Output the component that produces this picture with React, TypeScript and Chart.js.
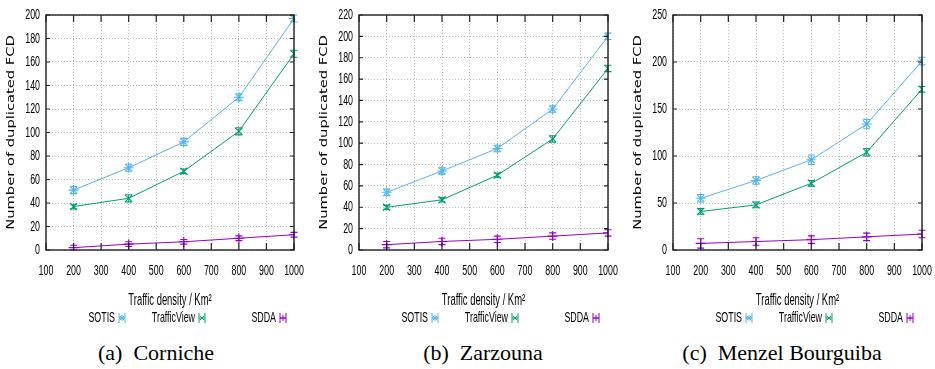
import React, { useEffect, useRef } from "react";
import { Chart, registerables } from "chart.js";

Chart.register(...registerables);

// ---------- data ----------
const densities = [200, 400, 600, 800, 1000];
const seriesNames = ["SOTIS", "TrafficView", "SDDA"];
const seriesColors = ["#56b4e9", "#009e73", "#9400d3"];
const seriesPointStyles = ["star", "crossRot", "cross"];

const cornicheSotis = [51, 70, 92, 130, 197];
const cornicheTrafficView = [37, 44, 67, 101, 167];
const cornicheSdda = [2, 5, 7, 10, 13];
const cornicheSotisErr = [3, 3, 3, 3, 3];
const cornicheTrafficViewErr = [2, 3, 2, 3, 3];
const cornicheSddaErr = [2, 2, 2, 2, 2];

const zarzounaSotis = [54, 74, 95, 132, 200];
const zarzounaTrafficView = [40, 47, 70, 104, 170];
const zarzounaSdda = [5, 8, 10, 13, 16];
const zarzounaSotisErr = [3, 3, 3, 3, 3];
const zarzounaTrafficViewErr = [2, 2, 2, 3, 3];
const zarzounaSddaErr = [3, 3, 3, 3, 3];

const menzelSotis = [55, 74, 96, 134, 201];
const menzelTrafficView = [41, 48, 71, 104, 171];
const menzelSdda = [7, 9, 11, 14, 17];
const menzelSotisErr = [4, 4, 5, 5, 4];
const menzelTrafficViewErr = [3, 3, 3, 4, 3];
const menzelSddaErr = [5, 4, 4, 4, 4];

const xMin = 100;
const xMax = 1000;
const xStep = 100;
const yMaxes = [200, 220, 250];
const ySteps = [20, 20, 50];

const yAxisTitle = "Number of duplicated FCD";
const xAxisTitle = "Traffic density / Km²";
const captions = ["(a)  Corniche", "(b)  Zarzouna", "(c)  Menzel Bourguiba"];

// ---------- layout ----------
const CANVAS_H = 330;
const STRETCH = 1.4;
const NARROW = 0.82;

type Series = { name: string; color: string; style: string; values: number[]; errors: number[] };

const panelLayouts = [
  { left: 0, width: 310, plotLeft: 46, plotRight: 294, captionCenter: 156 },
  { left: 312, width: 311, plotLeft: 47, plotRight: 296, captionCenter: 483 },
  { left: 625, width: 310, plotLeft: 48, plotRight: 297, captionCenter: 782 },
];

const panelSeries: Series[][] = [
  [
    [cornicheSotis, cornicheSotisErr],
    [cornicheTrafficView, cornicheTrafficViewErr],
    [cornicheSdda, cornicheSddaErr],
  ],
  [
    [zarzounaSotis, zarzounaSotisErr],
    [zarzounaTrafficView, zarzounaTrafficViewErr],
    [zarzounaSdda, zarzounaSddaErr],
  ],
  [
    [menzelSotis, menzelSotisErr],
    [menzelTrafficView, menzelTrafficViewErr],
    [menzelSdda, menzelSddaErr],
  ],
].map((p) =>
  p.map(([values, errors], i) => ({
    name: seriesNames[i],
    color: seriesColors[i],
    style: seriesPointStyles[i],
    values,
    errors,
  }))
);

function drawText(
  ctx: CanvasRenderingContext2D,
  text: string,
  x: number,
  y: number,
  font: string,
  align: CanvasTextAlign,
  sx: number,
  sy: number,
  rotate = false,
  color = "#000"
) {
  ctx.save();
  ctx.translate(x, y);
  if (rotate) ctx.rotate(-Math.PI / 2);
  ctx.scale(sx, sy);
  ctx.font = font;
  ctx.fillStyle = color;
  ctx.textAlign = align;
  ctx.textBaseline = "middle";
  ctx.fillText(text, 0, 0);
  ctx.restore();
}

function drawMarker(ctx: CanvasRenderingContext2D, style: string, x: number, y: number, r: number) {
  ctx.beginPath();
  const d = r * Math.SQRT1_2;
  if (style === "cross" || style === "star") {
    ctx.moveTo(x - r, y);
    ctx.lineTo(x + r, y);
    ctx.moveTo(x, y - r);
    ctx.lineTo(x, y + r);
  }
  if (style === "crossRot" || style === "star") {
    ctx.moveTo(x - d, y - d);
    ctx.lineTo(x + d, y + d);
    ctx.moveTo(x - d, y + d);
    ctx.lineTo(x + d, y - d);
  }
  ctx.stroke();
}

const legendTextEnds = [69, 149, 230];

function makePlugin(series: Series[]) {
  return {
    id: "gnuplotLook",
    afterDatasetsDraw(chart: any) {
      const { ctx, scales } = chart;
      const x = scales.x;
      const y = scales.y;
      ctx.save();
      ctx.lineWidth = 1.1;
      series.forEach((s) => {
        ctx.strokeStyle = s.color;
        densities.forEach((d, i) => {
          const px = x.getPixelForValue(d);
          const top = y.getPixelForValue(s.values[i] + s.errors[i]);
          const bot = y.getPixelForValue(s.values[i] - s.errors[i]);
          ctx.beginPath();
          ctx.moveTo(px, top);
          ctx.lineTo(px, bot);
          ctx.moveTo(px - 3.5, top);
          ctx.lineTo(px + 3.5, top);
          ctx.moveTo(px - 3.5, bot);
          ctx.lineTo(px + 3.5, bot);
          ctx.stroke();
        });
      });
      ctx.restore();
    },
    afterDraw(chart: any) {
      const { ctx, chartArea: a, scales } = chart;
      const x = scales.x;
      const y = scales.y;
      ctx.save();
      // frame
      ctx.strokeStyle = "#222";
      ctx.lineWidth = 1.4;
      ctx.strokeRect(a.left, a.top, a.right - a.left, a.bottom - a.top);
      // inward mirrored ticks
      ctx.lineWidth = 1.2;
      ctx.beginPath();
      x.ticks.forEach((t: any) => {
        const px = x.getPixelForValue(t.value);
        ctx.moveTo(px, a.bottom);
        ctx.lineTo(px, a.bottom - 7);
        ctx.moveTo(px, a.top);
        ctx.lineTo(px, a.top + 7);
      });
      y.ticks.forEach((t: any) => {
        const py = y.getPixelForValue(t.value);
        ctx.moveTo(a.left, py);
        ctx.lineTo(a.left + 4, py);
        ctx.moveTo(a.right, py);
        ctx.lineTo(a.right - 4, py);
      });
      ctx.stroke();

      const tickFont = '10.8px "Liberation Sans", Arial, sans-serif';
      x.ticks.forEach((t: any) => {
        drawText(ctx, String(t.value), x.getPixelForValue(t.value), a.bottom + 21, tickFont, "center", NARROW, STRETCH);
      });
      y.ticks.forEach((t: any) => {
        drawText(ctx, String(t.value), a.left - 6, y.getPixelForValue(t.value), tickFont, "right", NARROW, STRETCH);
      });

      // axis titles
      drawText(
        ctx,
        yAxisTitle,
        a.left - 35,
        (a.top + a.bottom) / 2,
        '10.5px "DejaVu Sans", sans-serif',
        "center",
        STRETCH,
        1,
        true
      );
      drawText(
        ctx,
        xAxisTitle,
        (a.left + a.right) / 2,
        a.bottom + 51,
        '11.5px "Liberation Sans", Arial, sans-serif',
        "center",
        NARROW,
        STRETCH
      );

      // legend
      const ly = a.bottom + 68;
      series.forEach((s, i) => {
        const tx = a.left + legendTextEnds[i];
        drawText(ctx, s.name, tx, ly, '10.8px "Liberation Sans", Arial, sans-serif', "right", NARROW, STRETCH);
        const mx = tx + 7;
        ctx.strokeStyle = s.color;
        ctx.lineWidth = 1;
        ctx.beginPath();
        ctx.moveTo(mx - 3, ly - 5);
        ctx.lineTo(mx - 3, ly + 5);
        ctx.moveTo(mx + 3, ly - 5);
        ctx.lineTo(mx + 3, ly + 5);
        ctx.moveTo(mx - 3, ly);
        ctx.lineTo(mx + 3, ly);
        ctx.stroke();
        drawMarker(ctx, s.style, mx, ly, 3);
      });
      ctx.restore();
    },
  };
}

function Panel({ index }: { index: number }) {
  const ref = useRef<HTMLCanvasElement | null>(null);
  const layout = panelLayouts[index];
  useEffect(() => {
    if (!ref.current) return;
    const series = panelSeries[index];
    const gridCommon = { color: "#b8b8b8", lineWidth: 1, drawTicks: false };
    const chart = new Chart(ref.current, {
      type: "line",
      data: {
        datasets: series.map((s) => ({
          label: s.name,
          data: densities.map((d, i) => ({ x: d, y: s.values[i] })),
          borderColor: s.color,
          backgroundColor: s.color,
          borderWidth: 1,
          pointStyle: s.style as any,
          pointRadius: 5,
          pointBorderWidth: 1.1,
          pointBorderColor: s.color,
          fill: false,
          tension: 0,
        })),
      },
      options: {
        animation: false,
        responsive: false,
        devicePixelRatio: 1,
        layout: {
          padding: { left: 0, right: layout.width - layout.plotRight, top: 15, bottom: 0 },
        },
        plugins: { legend: { display: false }, tooltip: { enabled: false } },
        scales: {
          x: {
            type: "linear",
            min: xMin,
            max: xMax,
            ticks: { stepSize: xStep, display: false },
            grid: gridCommon,
            border: { display: false, dash: [1, 2] },
            afterFit: (s: any) => {
              s.height = CANVAS_H - 250;
            },
          },
          y: {
            type: "linear",
            min: 0,
            max: yMaxes[index],
            ticks: { stepSize: ySteps[index], display: false },
            grid: gridCommon,
            border: { display: false, dash: [1, 2] },
            afterFit: (s: any) => {
              s.width = layout.plotLeft;
            },
          },
        },
      },
      plugins: [makePlugin(series)],
    } as any);
    return () => chart.destroy();
  }, [index]);

  return (
    <>
      <canvas
        ref={ref}
        width={layout.width}
        height={CANVAS_H}
        style={{ position: "absolute", left: layout.left, top: 0, width: layout.width, height: CANVAS_H }}
      />
      <div
        style={{
          position: "absolute",
          left: layout.captionCenter - 150,
          width: 300,
          top: 342,
          textAlign: "center",
          fontFamily: '"Liberation Serif", "Times New Roman", serif',
          fontSize: 22,
          lineHeight: "22px",
          color: "#000",
          whiteSpace: "pre",
        }}
      >
        {captions[index]}
      </div>
    </>
  );
}

export default function App() {
  return (
    <div
      style={{
        position: "fixed",
        left: 0,
        top: 0,
        width: 935,
        height: 369,
        background: "#fff",
        overflow: "hidden",
      }}
    >
      <Panel index={0} />
      <Panel index={1} />
      <Panel index={2} />
    </div>
  );
}
